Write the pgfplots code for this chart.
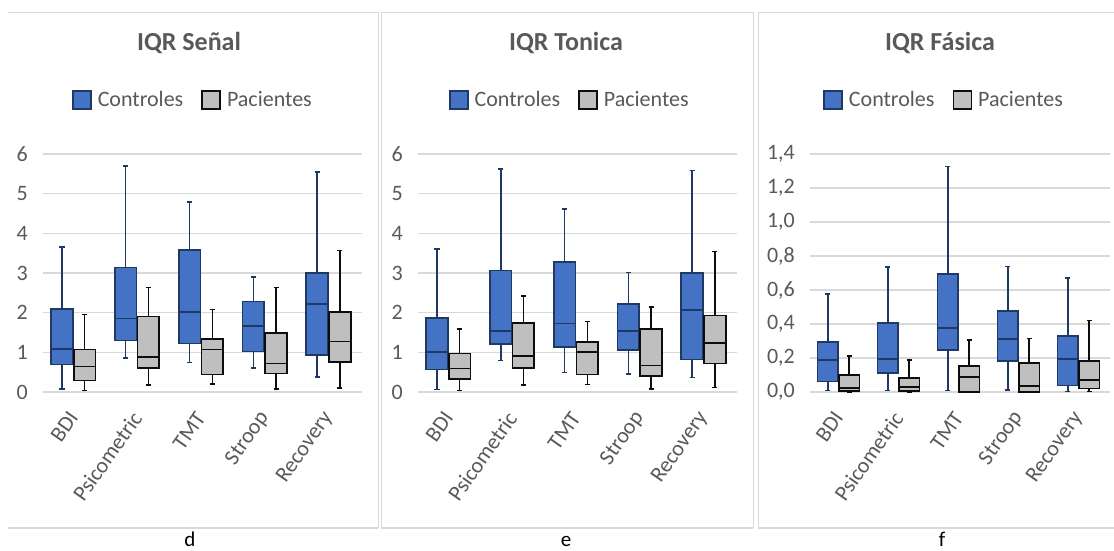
\documentclass[border=0pt]{standalone}
\usepackage{fontspec}
\setmainfont{Carlito}
\usepackage{pgfplots}
\pgfplotsset{compat=1.18}
\usepgfplotslibrary{statistics}
\definecolor{cfill}{HTML}{4472C4}
\definecolor{cline}{HTML}{1F3864}
\definecolor{pfill}{HTML}{BFBFBF}
\definecolor{pline}{HTML}{0D0D0D}
\definecolor{gridc}{HTML}{D9D9D9}
\definecolor{txt}{HTML}{595959}
\newcommand{\fs}[1]{\fontsize{#1}{#1}\selectfont}
\pgfplotsset{
 panel/.style={
  scale only axis, height=238pt, ymin=0, xmin=0, xmax=5, clip=false,
  axis x line*=bottom, axis y line*=left,
  x axis line style={draw=gridc, line width=1.2pt},
  y axis line style={draw=none},
  ymajorgrids, grid style={draw=gridc, line width=1.2pt},
  major tick length=0pt,
  xtick={0.475,1.475,2.475,3.475,4.475},
  xticklabels={BDI,Psicometric,TMT,Stroop,Recovery},
  xticklabel style={rotate=55, anchor=east, inner sep=0pt, font=\fs{22}, text=txt},
  yticklabel style={inner sep=0pt, font=\fs{22}, text=txt},
  xticklabel shift=22pt, yticklabel shift=15pt,
  /pgf/number format/assume math mode=true,
  boxplot/draw direction=y,
  boxplot/box extend=0.34, boxplot/whisker extend=0.08,
  boxplot/every whisker/.style={line width=1.5pt},
  boxplot/every median/.style={line width=1.7pt},
  boxplot/every box/.style={line width=1.7pt},
  legend style={draw=none, fill=none, legend columns=2, font=\fs{22}, text=txt, anchor=center,
    /tikz/every even column/.append style={column sep=16pt},
    /tikz/every odd column/.append style={column sep=4pt}},
  legend image code/.code={\draw[#1] (0pt,-9pt) rectangle (18pt,9pt);},
 },
 ctrl/.style={draw=cline, fill=cfill, line width=1.7pt, solid},
 pac/.style={draw=pline, fill=pfill, line width=1.7pt, solid},
}
% #1 style, #2 position, #3 low whisker, #4 Q1, #5 median, #6 Q3, #7 high whisker
\newcommand{\bx}[7]{\addplot[#1, boxplot prepared={draw position=#2, lower whisker=#3, lower quartile=#4, median=#5, upper quartile=#6, upper whisker=#7}] coordinates {};}
\newcommand{\legendimgs}{\addlegendimage{ctrl}\addlegendentry{Controles}\addlegendimage{pac}\addlegendentry{Pacientes}}
\begin{document}
\begin{tikzpicture}
\useasboundingbox (0,0) rectangle (1114pt,-550pt);
% frames
\draw[gridc, line width=1pt] (8pt,-12pt) -- (378pt,-12pt) -- (378pt,-528pt);
\draw[gridc, line width=1.5pt] (8pt,-528pt) -- (378pt,-528pt);
\draw[gridc, line width=1pt] (381pt,-528pt) -- (381pt,-12pt) -- (753pt,-12pt) -- (753pt,-528pt);
\draw[gridc, line width=1.5pt] (381pt,-528pt) -- (753pt,-528pt);
\draw[gridc, line width=1pt] (758pt,-528pt) -- (758pt,-12pt) -- (1114pt,-12pt);
\draw[gridc, line width=1.5pt] (758pt,-528pt) -- (1114pt,-528pt);
% titles and captions
\node[font=\fs{26}\bfseries, text=txt] at (189pt,-43pt) {IQR Señal};
\node[font=\fs{26}\bfseries, text=txt] at (566pt,-43pt) {IQR Tonica};
\node[font=\fs{26}\bfseries, text=txt] at (940pt,-43pt) {IQR Fásica};
\node[font=\fs{21}, anchor=base] at (190pt,-546pt) {d};
\node[font=\fs{21}, anchor=base] at (566pt,-546pt) {e};
\node[font=\fs{21}, anchor=base] at (942pt,-546pt) {f};

% Panel d
\begin{axis}[panel, width=319pt, at={(43pt,-392pt)}, anchor=south west, ymax=6, ytick={0,1,...,6},
  legend style={at={(0.47,1.227)}}]
\legendimgs
\bx{ctrl}{0.297}{0.08}{0.69}{1.09}{2.09}{3.66}
\bx{pac}{0.653}{0.04}{0.29}{0.64}{1.07}{1.96}
\bx{ctrl}{1.297}{0.86}{1.30}{1.85}{3.14}{5.70}
\bx{pac}{1.653}{0.18}{0.60}{0.89}{1.90}{2.63}
\bx{ctrl}{2.297}{0.75}{1.22}{2.01}{3.58}{4.79}
\bx{pac}{2.653}{0.20}{0.44}{1.07}{1.34}{2.08}
\bx{ctrl}{3.297}{0.60}{1.02}{1.66}{2.28}{2.90}
\bx{pac}{3.653}{0.07}{0.47}{0.72}{1.48}{2.63}
\bx{ctrl}{4.297}{0.38}{0.94}{2.21}{3.00}{5.55}
\bx{pac}{4.653}{0.10}{0.75}{1.27}{2.01}{3.57}
\end{axis}

% Panel e
\begin{axis}[panel, width=319pt, at={(418pt,-392pt)}, anchor=south west, ymax=6, ytick={0,1,...,6},
  legend style={at={(0.476,1.227)}}]
\legendimgs
\bx{ctrl}{0.297}{0.06}{0.57}{1.00}{1.86}{3.60}
\bx{pac}{0.653}{0.04}{0.32}{0.59}{0.97}{1.59}
\bx{ctrl}{1.297}{0.80}{1.21}{1.54}{3.06}{5.62}
\bx{pac}{1.653}{0.18}{0.60}{0.90}{1.74}{2.42}
\bx{ctrl}{2.297}{0.49}{1.14}{1.73}{3.27}{4.62}
\bx{pac}{2.653}{0.19}{0.44}{1.00}{1.26}{1.78}
\bx{ctrl}{3.297}{0.45}{1.06}{1.53}{2.21}{3.01}
\bx{pac}{3.653}{0.08}{0.41}{0.67}{1.59}{2.14}
\bx{ctrl}{4.297}{0.37}{0.82}{2.07}{3.00}{5.58}
\bx{pac}{4.653}{0.11}{0.72}{1.24}{1.93}{3.54}
\end{axis}

% Panel f
\begin{axis}[panel, width=300pt, at={(810pt,-392pt)}, anchor=south west, ymax=1.4, ytick={0,0.2,...,1.4},
  yticklabel style={/pgf/number format/.cd, fixed, fixed zerofill, precision=1, use comma},
  legend style={at={(0.447,1.227)}}]
\legendimgs
\bx{ctrl}{0.297}{0.008}{0.061}{0.188}{0.296}{0.576}
\bx{pac}{0.653}{0.0}{0.004}{0.023}{0.102}{0.211}
\bx{ctrl}{1.297}{0.008}{0.112}{0.196}{0.407}{0.736}
\bx{pac}{1.653}{0.0}{0.004}{0.029}{0.082}{0.188}
\bx{ctrl}{2.297}{0.008}{0.249}{0.378}{0.695}{1.326}
\bx{pac}{2.653}{0.0}{0.002}{0.090}{0.155}{0.307}
\bx{ctrl}{3.297}{0.012}{0.182}{0.311}{0.478}{0.738}
\bx{pac}{3.653}{0.0}{0.002}{0.035}{0.170}{0.315}
\bx{ctrl}{4.297}{0.004}{0.039}{0.196}{0.331}{0.672}
\bx{pac}{4.653}{0.004}{0.020}{0.072}{0.184}{0.421}
\end{axis}
\end{tikzpicture}
\end{document}
